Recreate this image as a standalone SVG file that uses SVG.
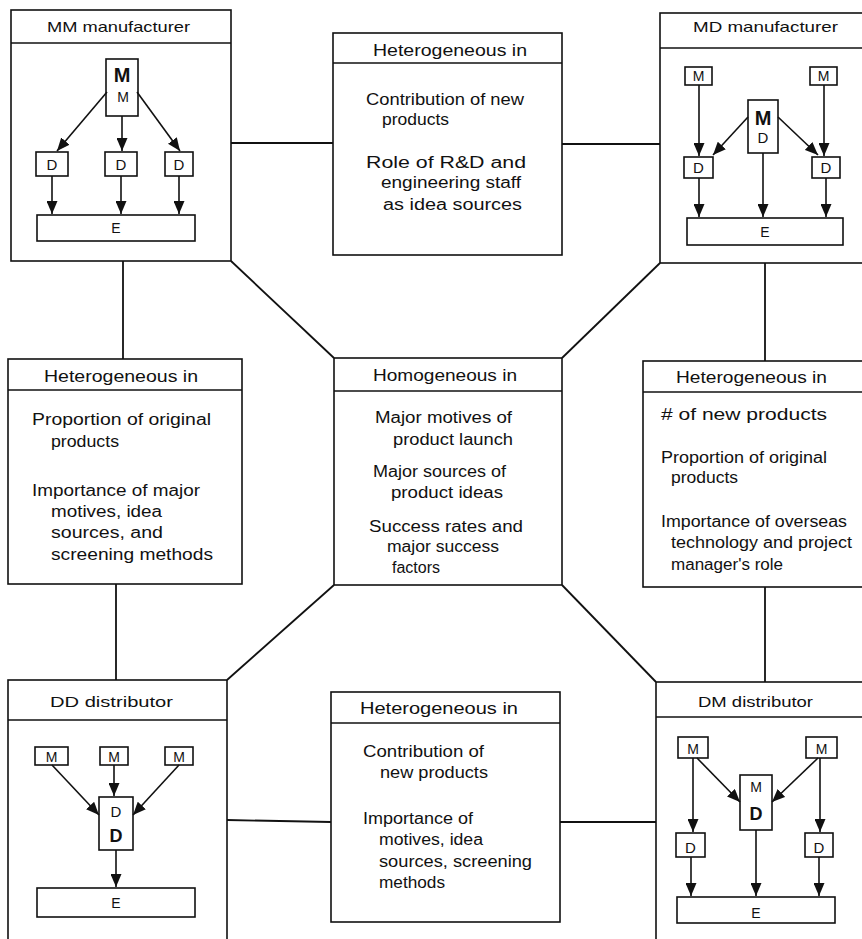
<svg xmlns="http://www.w3.org/2000/svg" width="862" height="939" viewBox="0 0 862 939">
<defs>
<marker id="ah" viewBox="0 0 13 11" refX="13" refY="5.5" markerWidth="13" markerHeight="11" markerUnits="userSpaceOnUse" orient="auto">
<path d="M0,0 L13,5.5 L0,11 z" fill="#111"/>
</marker>
<style>
.b { fill: #fff; stroke: #111; stroke-width: 1.6; }
.hdr { stroke: #111; stroke-width: 1.6; fill: none; }
.con line { stroke: #111; stroke-width: 1.8; fill: none; }
.arr { stroke: #111; stroke-width: 1.6; fill: none; marker-end: url(#ah); }
text { font-family: "Liberation Sans", Arial, sans-serif; fill: #111; }
.t { font-size: 16px; }
.ct { font-size: 14.5px; }
.l { font-size: 14px; text-anchor: middle; }
.lb { font-size: 20px; font-weight: bold; text-anchor: middle; }
.ld { font-size: 15px; text-anchor: middle; }
</style>
</defs>
<rect x="0" y="0" width="862" height="939" fill="#fff"/>

<g id="connectors" class="con">
<line x1="231" y1="143" x2="333" y2="143"/>
<line x1="562" y1="144" x2="660" y2="144"/>
<line x1="123" y1="261" x2="123" y2="359"/>
<line x1="231" y1="261" x2="334" y2="358"/>
<line x1="660" y1="263" x2="562" y2="358"/>
<line x1="765" y1="263" x2="765" y2="361"/>
<line x1="116" y1="584" x2="116" y2="680"/>
<line x1="334" y1="585" x2="227" y2="680"/>
<line x1="562" y1="585" x2="656" y2="682"/>
<line x1="765" y1="587" x2="765" y2="682"/>
<line x1="227" y1="820" x2="331" y2="822"/>
<line x1="560" y1="822" x2="656" y2="822"/>
</g>

<g id="mm-manufacturer">
<rect class="b" x="11" y="10" width="220" height="251"/>
<line class="hdr" x1="11" y1="43" x2="231" y2="43"/>
<text class="ct" x="47" y="32" textLength="143" lengthAdjust="spacingAndGlyphs">MM  manufacturer</text>
<rect class="b" x="106" y="59" width="32" height="57"/>
<text class="lb" x="122" y="82">M</text>
<text class="l" x="123" y="102">M</text>
<rect class="b" x="36" y="152" width="32" height="24"/>
<rect class="b" x="105" y="152" width="32" height="24"/>
<rect class="b" x="165" y="152" width="28" height="24"/>
<text class="ld" x="52" y="170">D</text>
<text class="ld" x="121" y="170">D</text>
<text class="ld" x="179" y="170">D</text>
<rect class="b" x="37" y="215" width="158" height="26"/>
<text class="l" x="116" y="233">E</text>
<line class="arr" x1="107" y1="92" x2="57" y2="151"/>
<line class="arr" x1="122" y1="116" x2="122" y2="151"/>
<line class="arr" x1="137" y1="92" x2="180" y2="151"/>
<line class="arr" x1="52" y1="176" x2="52" y2="214"/>
<line class="arr" x1="121" y1="176" x2="121" y2="214"/>
<line class="arr" x1="179" y1="176" x2="179" y2="214"/>
</g>

<g id="md-manufacturer">
<rect class="b" x="660" y="13" width="215" height="250"/>
<line class="hdr" x1="660" y1="48" x2="875" y2="48"/>
<text class="ct" x="693" y="32" textLength="145" lengthAdjust="spacingAndGlyphs">MD  manufacturer</text>
<rect class="b" x="685" y="67" width="27" height="18"/>
<rect class="b" x="810" y="67" width="27" height="18"/>
<text class="l" x="698.5" y="81">M</text>
<text class="l" x="823.5" y="81">M</text>
<rect class="b" x="748" y="100" width="30" height="53"/>
<text class="lb" x="763" y="125">M</text>
<text class="ld" x="763" y="143">D</text>
<rect class="b" x="684" y="157" width="29" height="21"/>
<rect class="b" x="812" y="157" width="28" height="21"/>
<text class="ld" x="698.5" y="173">D</text>
<text class="ld" x="826" y="173">D</text>
<rect class="b" x="687" y="218" width="156" height="27"/>
<text class="l" x="765" y="237">E</text>
<line class="arr" x1="699" y1="85" x2="699" y2="156"/>
<line class="arr" x1="824" y1="85" x2="824" y2="156"/>
<line class="arr" x1="748" y1="117" x2="713" y2="155"/>
<line class="arr" x1="778" y1="117" x2="818" y2="155"/>
<line class="arr" x1="699" y1="178" x2="699" y2="217"/>
<line class="arr" x1="763" y1="153" x2="763" y2="217"/>
<line class="arr" x1="826" y1="178" x2="826" y2="217"/>
</g>

<g id="top-heterogeneous">
<rect class="b" x="333" y="33" width="229" height="222"/>
<line class="hdr" x1="333" y1="63" x2="562" y2="63"/>
<text class="t" x="373" y="56" textLength="154" lengthAdjust="spacingAndGlyphs">Heterogeneous  in</text>
<text class="t" x="366" y="105" textLength="158" lengthAdjust="spacingAndGlyphs">Contribution of new</text>
<text class="t" x="382" y="125" textLength="67" lengthAdjust="spacingAndGlyphs">products</text>
<text class="t" x="366" y="168" textLength="160" lengthAdjust="spacingAndGlyphs">Role of  R&amp;D  and</text>
<text class="t" x="381" y="188" textLength="140" lengthAdjust="spacingAndGlyphs">engineering  staff</text>
<text class="t" x="383" y="210" textLength="139" lengthAdjust="spacingAndGlyphs">as idea  sources</text>
</g>

<g id="left-heterogeneous">
<rect class="b" x="8" y="359" width="234" height="225"/>
<line class="hdr" x1="8" y1="390" x2="242" y2="390"/>
<text class="t" x="44" y="382" textLength="154" lengthAdjust="spacingAndGlyphs">Heterogeneous  in</text>
<text class="t" x="32" y="425" textLength="179" lengthAdjust="spacingAndGlyphs">Proportion of original</text>
<text class="t" x="51" y="447" textLength="68" lengthAdjust="spacingAndGlyphs">products</text>
<text class="t" x="32" y="496" textLength="168" lengthAdjust="spacingAndGlyphs">Importance of major</text>
<text class="t" x="51" y="517" textLength="111" lengthAdjust="spacingAndGlyphs">motives, idea</text>
<text class="t" x="51" y="538" textLength="112" lengthAdjust="spacingAndGlyphs">sources,  and</text>
<text class="t" x="51" y="560" textLength="162" lengthAdjust="spacingAndGlyphs">screening  methods</text>
</g>

<g id="homogeneous">
<rect class="b" x="334" y="358" width="228" height="227"/>
<line class="hdr" x1="334" y1="391" x2="562" y2="391"/>
<text class="t" x="373" y="381" textLength="144" lengthAdjust="spacingAndGlyphs">Homogeneous  in</text>
<text class="t" x="375" y="423" textLength="137" lengthAdjust="spacingAndGlyphs">Major motives of</text>
<text class="t" x="393" y="445" textLength="120" lengthAdjust="spacingAndGlyphs">product launch</text>
<text class="t" x="373" y="477" textLength="133" lengthAdjust="spacingAndGlyphs">Major sources of</text>
<text class="t" x="391" y="498" textLength="112" lengthAdjust="spacingAndGlyphs">product  ideas</text>
<text class="t" x="369" y="532" textLength="154" lengthAdjust="spacingAndGlyphs">Success rates and</text>
<text class="t" x="387" y="552" textLength="112" lengthAdjust="spacingAndGlyphs">major success</text>
<text class="t" x="392" y="573" textLength="48" lengthAdjust="spacingAndGlyphs">factors</text>
</g>

<g id="right-heterogeneous">
<rect class="b" x="643" y="361" width="232" height="226"/>
<line class="hdr" x1="643" y1="392" x2="875" y2="392"/>
<text class="t" x="676" y="383" textLength="151" lengthAdjust="spacingAndGlyphs">Heterogeneous  in</text>
<text class="t" x="661" y="420" textLength="166" lengthAdjust="spacingAndGlyphs">#  of  new  products</text>
<text class="t" x="661" y="463" textLength="166" lengthAdjust="spacingAndGlyphs">Proportion of original</text>
<text class="t" x="671" y="483" textLength="67" lengthAdjust="spacingAndGlyphs">products</text>
<text class="t" x="661" y="527" textLength="186" lengthAdjust="spacingAndGlyphs">Importance of overseas</text>
<text class="t" x="671" y="548" textLength="181" lengthAdjust="spacingAndGlyphs">technology and project</text>
<text class="t" x="671" y="570" textLength="112" lengthAdjust="spacingAndGlyphs">manager's role</text>
</g>

<g id="dd-distributor">
<rect class="b" x="8" y="680" width="219" height="270"/>
<line class="hdr" x1="8" y1="720" x2="227" y2="720"/>
<text class="ct" x="50" y="707" textLength="123" lengthAdjust="spacingAndGlyphs">DD  distributor</text>
<rect class="b" x="35" y="747" width="33" height="18"/>
<rect class="b" x="100" y="747" width="28" height="18"/>
<rect class="b" x="165" y="747" width="28" height="18"/>
<text class="l" x="51.5" y="762">M</text>
<text class="l" x="114" y="762">M</text>
<text class="l" x="179" y="762">M</text>
<rect class="b" x="99" y="797" width="34" height="53"/>
<text class="ld" x="116" y="817">D</text>
<text class="ld" x="116" y="842" style="font-size:18px;font-weight:bold">D</text>
<rect class="b" x="37" y="888" width="158" height="29"/>
<text class="l" x="116" y="908">E</text>
<line class="arr" x1="52" y1="765" x2="99" y2="815"/>
<line class="arr" x1="114" y1="765" x2="114" y2="796"/>
<line class="arr" x1="179" y1="765" x2="133" y2="815"/>
<line class="arr" x1="116" y1="850" x2="116" y2="887"/>
</g>

<g id="bottom-heterogeneous">
<rect class="b" x="331" y="692" width="229" height="230"/>
<line class="hdr" x1="331" y1="723" x2="560" y2="723"/>
<text class="t" x="360" y="714" textLength="158" lengthAdjust="spacingAndGlyphs">Heterogeneous   in</text>
<text class="t" x="363" y="757" textLength="121" lengthAdjust="spacingAndGlyphs">Contribution  of</text>
<text class="t" x="380" y="778" textLength="108" lengthAdjust="spacingAndGlyphs">new  products</text>
<text class="t" x="363" y="824" textLength="110" lengthAdjust="spacingAndGlyphs">Importance  of</text>
<text class="t" x="379" y="845" textLength="104" lengthAdjust="spacingAndGlyphs">motives, idea</text>
<text class="t" x="379" y="867" textLength="153" lengthAdjust="spacingAndGlyphs">sources, screening</text>
<text class="t" x="379" y="888" textLength="66" lengthAdjust="spacingAndGlyphs">methods</text>
</g>

<g id="dm-distributor">
<rect class="b" x="656" y="682" width="219" height="270"/>
<line class="hdr" x1="656" y1="717" x2="875" y2="717"/>
<text class="ct" x="698" y="707" textLength="115" lengthAdjust="spacingAndGlyphs">DM  distributor</text>
<rect class="b" x="678" y="737" width="30" height="21"/>
<rect class="b" x="806" y="737" width="31" height="21"/>
<text class="l" x="693" y="754">M</text>
<text class="l" x="821.5" y="754">M</text>
<rect class="b" x="740" y="775" width="32" height="55"/>
<text class="l" x="756" y="792">M</text>
<text class="ld" x="756" y="820" style="font-size:18px;font-weight:bold">D</text>
<rect class="b" x="676" y="833" width="29" height="24"/>
<rect class="b" x="805" y="833" width="28" height="24"/>
<text class="ld" x="690.5" y="853">D</text>
<text class="ld" x="819" y="853">D</text>
<rect class="b" x="677" y="897" width="158" height="26"/>
<text class="l" x="756" y="918">E</text>
<line class="arr" x1="693" y1="758" x2="693" y2="832"/>
<line class="arr" x1="820" y1="758" x2="820" y2="832"/>
<line class="arr" x1="697" y1="758" x2="740" y2="802"/>
<line class="arr" x1="818" y1="758" x2="772" y2="802"/>
<line class="arr" x1="691" y1="857" x2="691" y2="896"/>
<line class="arr" x1="756" y1="830" x2="756" y2="896"/>
<line class="arr" x1="819" y1="857" x2="819" y2="896"/>
</g>
</svg>
